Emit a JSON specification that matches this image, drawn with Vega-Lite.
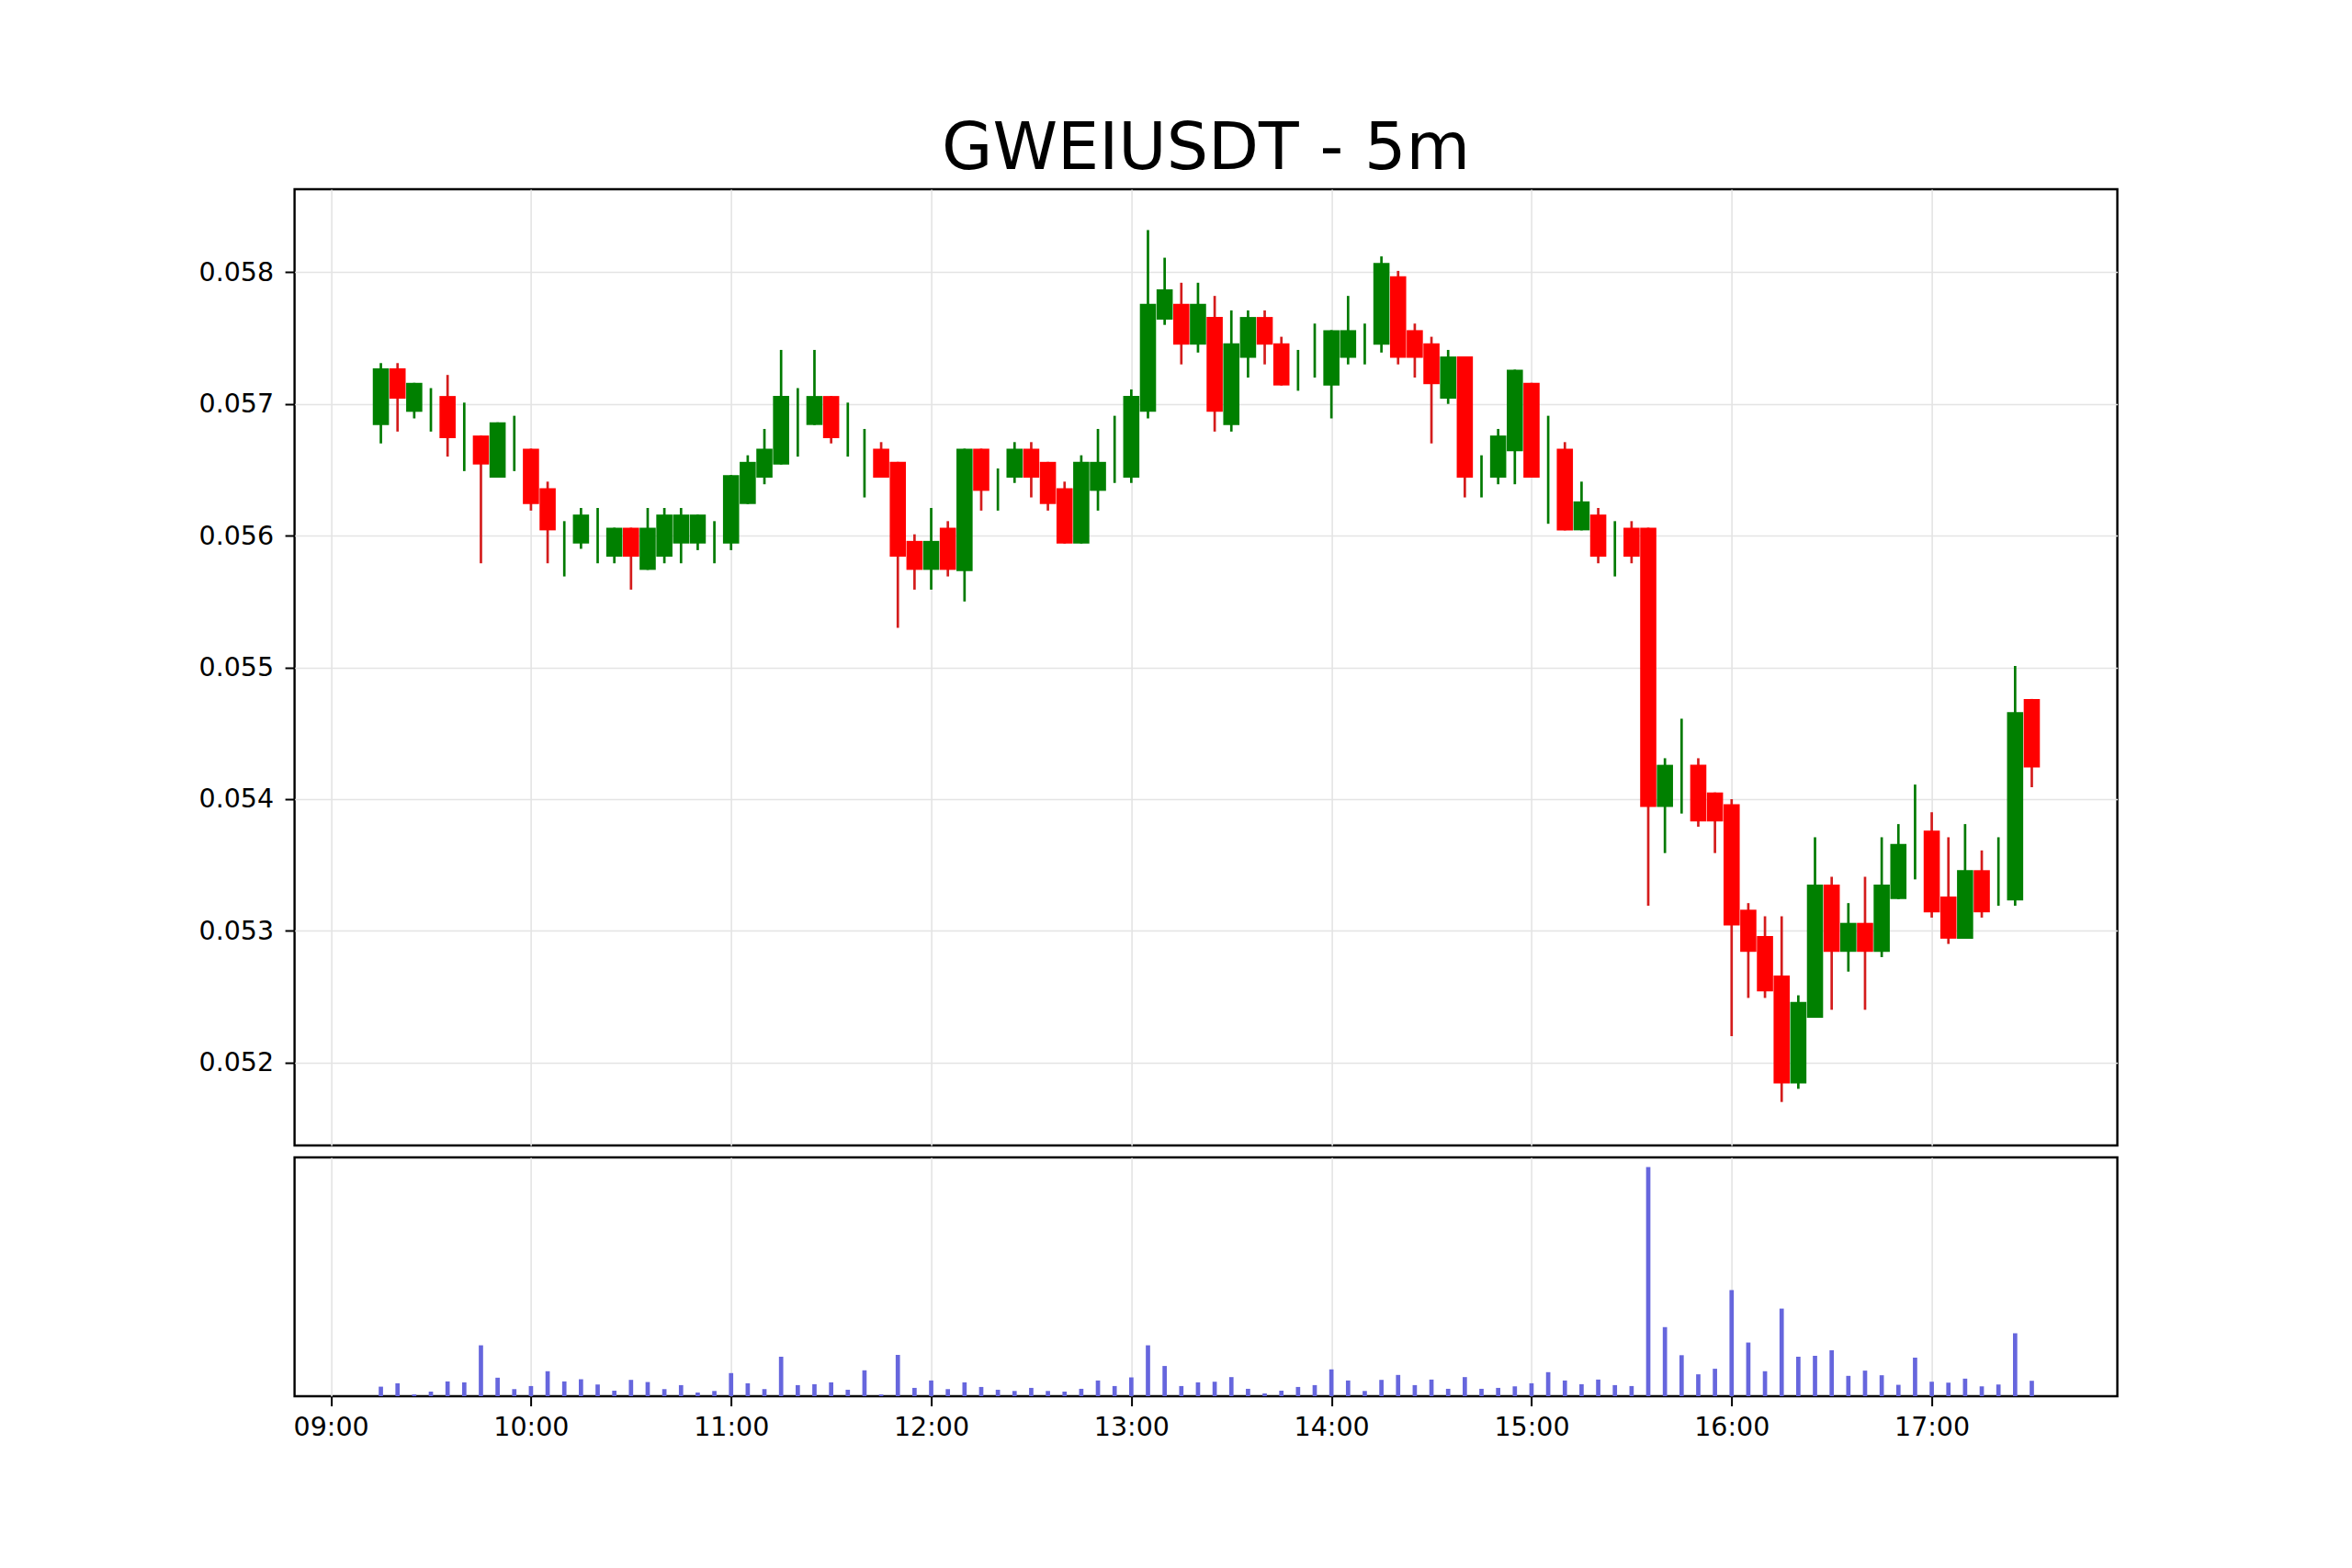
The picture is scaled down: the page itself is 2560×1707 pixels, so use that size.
{
  "$schema": "https://vega.github.io/schema/vega-lite/v6.json",
  "autosize": {"type": "pad"},
  "padding": {"left": 214.6, "top": 125, "right": 257, "bottom": 140},
  "background": "white",
  "config": {
    "view": {"stroke": "black", "strokeWidth": 2.4},
    "axis": {
      "gridColor": "#e4e4e4", "gridWidth": 1.6, "tickColor": "black", "tickWidth": 2,
      "tickSize": 10.5, "labelFont": "DejaVu Sans", "labelFontSize": 28.5, "labelColor": "black",
      "domain": false, "title": null
    }
  },
  "datasets": {
    "candles": [
      {"t":"2024-01-01T09:15:00","o":0.05684,"h":0.05731,"l":0.05670,"c":0.05727,"v":31},
      {"t":"2024-01-01T09:20:00","o":0.05727,"h":0.05731,"l":0.05679,"c":0.05704,"v":42},
      {"t":"2024-01-01T09:25:00","o":0.05694,"h":0.05716,"l":0.05689,"c":0.05716,"v":6},
      {"t":"2024-01-01T09:30:00","o":0.05696,"h":0.05712,"l":0.05679,"c":0.05696,"v":15},
      {"t":"2024-01-01T09:35:00","o":0.05706,"h":0.05722,"l":0.05660,"c":0.05674,"v":48},
      {"t":"2024-01-01T09:40:00","o":0.05680,"h":0.05701,"l":0.05649,"c":0.05680,"v":45},
      {"t":"2024-01-01T09:45:00","o":0.05676,"h":0.05676,"l":0.05579,"c":0.05654,"v":165},
      {"t":"2024-01-01T09:50:00","o":0.05644,"h":0.05686,"l":0.05644,"c":0.05686,"v":60},
      {"t":"2024-01-01T09:55:00","o":0.05665,"h":0.05691,"l":0.05649,"c":0.05665,"v":23},
      {"t":"2024-01-01T10:00:00","o":0.05666,"h":0.05666,"l":0.05619,"c":0.05624,"v":33},
      {"t":"2024-01-01T10:05:00","o":0.05636,"h":0.05641,"l":0.05579,"c":0.05604,"v":81},
      {"t":"2024-01-01T10:10:00","o":0.05590,"h":0.05611,"l":0.05569,"c":0.05590,"v":48},
      {"t":"2024-01-01T10:15:00","o":0.05594,"h":0.05621,"l":0.05590,"c":0.05616,"v":55},
      {"t":"2024-01-01T10:20:00","o":0.05600,"h":0.05621,"l":0.05579,"c":0.05600,"v":38},
      {"t":"2024-01-01T10:25:00","o":0.05584,"h":0.05606,"l":0.05579,"c":0.05606,"v":18},
      {"t":"2024-01-01T10:30:00","o":0.05606,"h":0.05606,"l":0.05559,"c":0.05584,"v":53},
      {"t":"2024-01-01T10:35:00","o":0.05574,"h":0.05621,"l":0.05574,"c":0.05606,"v":46},
      {"t":"2024-01-01T10:40:00","o":0.05584,"h":0.05621,"l":0.05579,"c":0.05616,"v":23},
      {"t":"2024-01-01T10:45:00","o":0.05594,"h":0.05621,"l":0.05579,"c":0.05616,"v":36},
      {"t":"2024-01-01T10:50:00","o":0.05594,"h":0.05616,"l":0.05589,"c":0.05616,"v":12},
      {"t":"2024-01-01T10:55:00","o":0.05596,"h":0.05611,"l":0.05579,"c":0.05596,"v":17},
      {"t":"2024-01-01T11:00:00","o":0.05594,"h":0.05646,"l":0.05589,"c":0.05646,"v":75},
      {"t":"2024-01-01T11:05:00","o":0.05624,"h":0.05661,"l":0.05624,"c":0.05656,"v":42},
      {"t":"2024-01-01T11:10:00","o":0.05644,"h":0.05681,"l":0.05639,"c":0.05666,"v":23},
      {"t":"2024-01-01T11:15:00","o":0.05654,"h":0.05741,"l":0.05654,"c":0.05706,"v":128},
      {"t":"2024-01-01T11:20:00","o":0.05690,"h":0.05712,"l":0.05660,"c":0.05690,"v":36},
      {"t":"2024-01-01T11:25:00","o":0.05684,"h":0.05741,"l":0.05684,"c":0.05706,"v":39},
      {"t":"2024-01-01T11:30:00","o":0.05706,"h":0.05706,"l":0.05670,"c":0.05674,"v":45},
      {"t":"2024-01-01T11:35:00","o":0.05680,"h":0.05701,"l":0.05660,"c":0.05680,"v":21},
      {"t":"2024-01-01T11:40:00","o":0.05655,"h":0.05681,"l":0.05629,"c":0.05655,"v":84},
      {"t":"2024-01-01T11:45:00","o":0.05666,"h":0.05671,"l":0.05644,"c":0.05644,"v":6},
      {"t":"2024-01-01T11:50:00","o":0.05656,"h":0.05656,"l":0.05530,"c":0.05584,"v":134},
      {"t":"2024-01-01T11:55:00","o":0.05596,"h":0.05601,"l":0.05559,"c":0.05574,"v":27},
      {"t":"2024-01-01T12:00:00","o":0.05574,"h":0.05621,"l":0.05559,"c":0.05596,"v":51},
      {"t":"2024-01-01T12:05:00","o":0.05606,"h":0.05611,"l":0.05569,"c":0.05574,"v":23},
      {"t":"2024-01-01T12:10:00","o":0.05573,"h":0.05666,"l":0.05550,"c":0.05666,"v":45},
      {"t":"2024-01-01T12:15:00","o":0.05666,"h":0.05666,"l":0.05619,"c":0.05634,"v":30},
      {"t":"2024-01-01T12:20:00","o":0.05640,"h":0.05651,"l":0.05619,"c":0.05640,"v":21},
      {"t":"2024-01-01T12:25:00","o":0.05644,"h":0.05671,"l":0.05640,"c":0.05666,"v":17},
      {"t":"2024-01-01T12:30:00","o":0.05666,"h":0.05671,"l":0.05629,"c":0.05644,"v":27},
      {"t":"2024-01-01T12:35:00","o":0.05656,"h":0.05656,"l":0.05619,"c":0.05624,"v":17},
      {"t":"2024-01-01T12:40:00","o":0.05636,"h":0.05641,"l":0.05594,"c":0.05594,"v":15},
      {"t":"2024-01-01T12:45:00","o":0.05594,"h":0.05661,"l":0.05594,"c":0.05656,"v":24},
      {"t":"2024-01-01T12:50:00","o":0.05634,"h":0.05681,"l":0.05619,"c":0.05656,"v":51},
      {"t":"2024-01-01T12:55:00","o":0.05665,"h":0.05691,"l":0.05640,"c":0.05665,"v":33},
      {"t":"2024-01-01T13:00:00","o":0.05644,"h":0.05711,"l":0.05640,"c":0.05706,"v":61},
      {"t":"2024-01-01T13:05:00","o":0.05694,"h":0.05832,"l":0.05689,"c":0.05776,"v":165},
      {"t":"2024-01-01T13:10:00","o":0.05764,"h":0.05811,"l":0.05760,"c":0.05787,"v":98},
      {"t":"2024-01-01T13:15:00","o":0.05776,"h":0.05792,"l":0.05730,"c":0.05745,"v":33},
      {"t":"2024-01-01T13:20:00","o":0.05745,"h":0.05792,"l":0.05739,"c":0.05776,"v":45},
      {"t":"2024-01-01T13:25:00","o":0.05766,"h":0.05782,"l":0.05679,"c":0.05694,"v":47},
      {"t":"2024-01-01T13:30:00","o":0.05684,"h":0.05771,"l":0.05679,"c":0.05746,"v":62},
      {"t":"2024-01-01T13:35:00","o":0.05735,"h":0.05771,"l":0.05720,"c":0.05766,"v":24},
      {"t":"2024-01-01T13:40:00","o":0.05766,"h":0.05771,"l":0.05730,"c":0.05745,"v":9},
      {"t":"2024-01-01T13:45:00","o":0.05746,"h":0.05751,"l":0.05714,"c":0.05714,"v":18},
      {"t":"2024-01-01T13:50:00","o":0.05725,"h":0.05741,"l":0.05710,"c":0.05725,"v":30},
      {"t":"2024-01-01T13:55:00","o":0.05740,"h":0.05761,"l":0.05720,"c":0.05740,"v":36},
      {"t":"2024-01-01T14:00:00","o":0.05714,"h":0.05756,"l":0.05689,"c":0.05756,"v":87},
      {"t":"2024-01-01T14:05:00","o":0.05735,"h":0.05782,"l":0.05730,"c":0.05756,"v":51},
      {"t":"2024-01-01T14:10:00","o":0.05745,"h":0.05761,"l":0.05730,"c":0.05745,"v":17},
      {"t":"2024-01-01T14:15:00","o":0.05745,"h":0.05812,"l":0.05739,"c":0.05807,"v":53},
      {"t":"2024-01-01T14:20:00","o":0.05797,"h":0.05801,"l":0.05730,"c":0.05735,"v":69},
      {"t":"2024-01-01T14:25:00","o":0.05756,"h":0.05761,"l":0.05720,"c":0.05735,"v":36},
      {"t":"2024-01-01T14:30:00","o":0.05746,"h":0.05751,"l":0.05670,"c":0.05715,"v":54},
      {"t":"2024-01-01T14:35:00","o":0.05704,"h":0.05741,"l":0.05700,"c":0.05736,"v":24},
      {"t":"2024-01-01T14:40:00","o":0.05736,"h":0.05736,"l":0.05629,"c":0.05644,"v":62},
      {"t":"2024-01-01T14:45:00","o":0.05645,"h":0.05661,"l":0.05629,"c":0.05645,"v":24},
      {"t":"2024-01-01T14:50:00","o":0.05644,"h":0.05681,"l":0.05639,"c":0.05676,"v":27},
      {"t":"2024-01-01T14:55:00","o":0.05664,"h":0.05726,"l":0.05639,"c":0.05726,"v":32},
      {"t":"2024-01-01T15:00:00","o":0.05716,"h":0.05716,"l":0.05644,"c":0.05644,"v":42},
      {"t":"2024-01-01T15:05:00","o":0.05650,"h":0.05691,"l":0.05609,"c":0.05650,"v":78},
      {"t":"2024-01-01T15:10:00","o":0.05666,"h":0.05671,"l":0.05604,"c":0.05604,"v":51},
      {"t":"2024-01-01T15:15:00","o":0.05604,"h":0.05641,"l":0.05604,"c":0.05626,"v":39},
      {"t":"2024-01-01T15:20:00","o":0.05616,"h":0.05621,"l":0.05579,"c":0.05584,"v":54},
      {"t":"2024-01-01T15:25:00","o":0.05590,"h":0.05611,"l":0.05569,"c":0.05590,"v":36},
      {"t":"2024-01-01T15:30:00","o":0.05606,"h":0.05611,"l":0.05579,"c":0.05584,"v":33},
      {"t":"2024-01-01T15:35:00","o":0.05606,"h":0.05606,"l":0.05319,"c":0.05394,"v":743},
      {"t":"2024-01-01T15:40:00","o":0.05394,"h":0.05431,"l":0.05359,"c":0.05426,"v":224},
      {"t":"2024-01-01T15:45:00","o":0.05420,"h":0.05461,"l":0.05389,"c":0.05420,"v":133},
      {"t":"2024-01-01T15:50:00","o":0.05426,"h":0.05431,"l":0.05379,"c":0.05383,"v":71},
      {"t":"2024-01-01T15:55:00","o":0.05405,"h":0.05405,"l":0.05359,"c":0.05383,"v":89},
      {"t":"2024-01-01T16:00:00","o":0.05396,"h":0.05400,"l":0.05220,"c":0.05304,"v":344},
      {"t":"2024-01-01T16:05:00","o":0.05316,"h":0.05321,"l":0.05249,"c":0.05284,"v":174},
      {"t":"2024-01-01T16:10:00","o":0.05296,"h":0.05311,"l":0.05249,"c":0.05254,"v":81},
      {"t":"2024-01-01T16:15:00","o":0.05266,"h":0.05311,"l":0.05170,"c":0.05184,"v":284},
      {"t":"2024-01-01T16:20:00","o":0.05184,"h":0.05251,"l":0.05180,"c":0.05246,"v":128},
      {"t":"2024-01-01T16:25:00","o":0.05234,"h":0.05371,"l":0.05234,"c":0.05335,"v":131},
      {"t":"2024-01-01T16:30:00","o":0.05335,"h":0.05341,"l":0.05240,"c":0.05284,"v":149},
      {"t":"2024-01-01T16:35:00","o":0.05284,"h":0.05321,"l":0.05269,"c":0.05306,"v":66},
      {"t":"2024-01-01T16:40:00","o":0.05306,"h":0.05341,"l":0.05240,"c":0.05284,"v":83},
      {"t":"2024-01-01T16:45:00","o":0.05284,"h":0.05371,"l":0.05280,"c":0.05335,"v":68},
      {"t":"2024-01-01T16:50:00","o":0.05324,"h":0.05381,"l":0.05324,"c":0.05366,"v":37},
      {"t":"2024-01-01T16:55:00","o":0.05375,"h":0.05411,"l":0.05339,"c":0.05375,"v":125},
      {"t":"2024-01-01T17:00:00","o":0.05376,"h":0.05390,"l":0.05310,"c":0.05314,"v":47},
      {"t":"2024-01-01T17:05:00","o":0.05326,"h":0.05371,"l":0.05290,"c":0.05294,"v":44},
      {"t":"2024-01-01T17:10:00","o":0.05294,"h":0.05381,"l":0.05294,"c":0.05346,"v":57},
      {"t":"2024-01-01T17:15:00","o":0.05346,"h":0.05361,"l":0.05310,"c":0.05314,"v":32},
      {"t":"2024-01-01T17:20:00","o":0.05345,"h":0.05371,"l":0.05319,"c":0.05345,"v":38},
      {"t":"2024-01-01T17:25:00","o":0.05323,"h":0.05501,"l":0.05319,"c":0.05466,"v":204},
      {"t":"2024-01-01T17:30:00","o":0.05476,"h":0.05476,"l":0.05409,"c":0.05424,"v":50}
    ]
  },
  "data": {"name": "candles"},
  "bounds": "flush",
  "spacing": 13,
  "vconcat": [
    {
      "width": 1984,
      "height": 1041,
      "title": {"text": "GWEIUSDT - 5m", "font": "DejaVu Sans", "fontSize": 71.5, "fontWeight": "normal", "color": "black", "anchor": "middle", "offset": 7},
      "encoding": {
        "x": {
          "field": "t", "type": "temporal",
          "scale": {"padding": 0, "domain": [{"year": 2024, "month": 1, "date": 1, "hours": 8, "minutes": 49, "seconds": 7}, {"year": 2024, "month": 1, "date": 1, "hours": 17, "minutes": 55, "seconds": 39}]},
          "axis": {"values": [
            {"year": 2024, "month": 1, "date": 1, "hours": 9},
            {"year": 2024, "month": 1, "date": 1, "hours": 10},
            {"year": 2024, "month": 1, "date": 1, "hours": 11},
            {"year": 2024, "month": 1, "date": 1, "hours": 12},
            {"year": 2024, "month": 1, "date": 1, "hours": 13},
            {"year": 2024, "month": 1, "date": 1, "hours": 14},
            {"year": 2024, "month": 1, "date": 1, "hours": 15},
            {"year": 2024, "month": 1, "date": 1, "hours": 16},
            {"year": 2024, "month": 1, "date": 1, "hours": 17}
          ], "labels": false, "ticks": false, "grid": true, "minExtent": 0, "maxExtent": 0}
        }
      },
      "layer": [
        {
          "mark": {"type": "rule", "strokeWidth": 2.7},
          "encoding": {
            "y": {"field": "l", "type": "quantitative", "scale": {"domain": [0.05137, 0.05863], "zero": false, "nice": false},
                  "axis": {"values": [0.052, 0.053, 0.054, 0.055, 0.056, 0.057, 0.058], "format": ".3f", "grid": true, "labelPadding": 12.5}},
            "y2": {"field": "h"},
            "color": {"condition": {"test": "datum.c >= datum.o", "value": "#007a00"}, "value": "#d41c1c"}
          }
        },
        {
          "mark": {"type": "bar", "width": 17.6},
          "encoding": {
            "y": {"field": "o", "type": "quantitative"},
            "y2": {"field": "c"},
            "color": {"condition": {"test": "datum.c >= datum.o", "value": "#008000"}, "value": "#ff0000"}
          }
        }
      ]
    },
    {
      "width": 1984,
      "height": 260,
      "mark": {"type": "bar", "width": 4.7, "color": "#6666dd"},
      "encoding": {
        "x": {
          "field": "t", "type": "temporal",
          "scale": {"padding": 0, "domain": [{"year": 2024, "month": 1, "date": 1, "hours": 8, "minutes": 49, "seconds": 7}, {"year": 2024, "month": 1, "date": 1, "hours": 17, "minutes": 55, "seconds": 39}]},
          "axis": {"values": [
            {"year": 2024, "month": 1, "date": 1, "hours": 9},
            {"year": 2024, "month": 1, "date": 1, "hours": 10},
            {"year": 2024, "month": 1, "date": 1, "hours": 11},
            {"year": 2024, "month": 1, "date": 1, "hours": 12},
            {"year": 2024, "month": 1, "date": 1, "hours": 13},
            {"year": 2024, "month": 1, "date": 1, "hours": 14},
            {"year": 2024, "month": 1, "date": 1, "hours": 15},
            {"year": 2024, "month": 1, "date": 1, "hours": 16},
            {"year": 2024, "month": 1, "date": 1, "hours": 17}
          ], "format": "%H:%M", "grid": true, "labelPadding": 9}
        },
        "y": {"field": "v", "type": "quantitative", "scale": {"domain": [0, 774], "nice": false}, "axis": null}
      }
    }
  ]
}
